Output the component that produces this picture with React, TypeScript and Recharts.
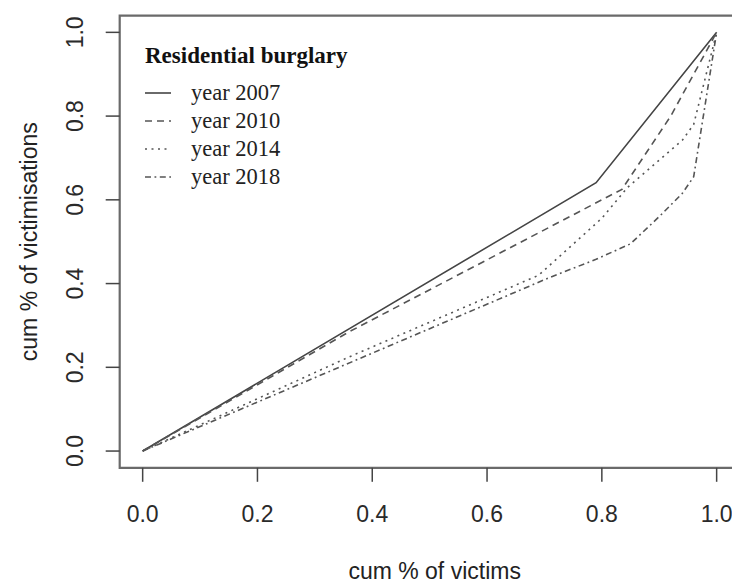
import React from 'react';
import { LineChart, Line, XAxis, YAxis, ReferenceArea, Legend, Label } from 'recharts';

// ---- data ----
const x2007 = [0, 0.79, 1];
const y2007 = [0, 0.641, 1];
const x2010 = [0, 0.36, 0.8, 0.835, 0.92, 1];
const y2010 = [0, 0.285, 0.6, 0.625, 0.8, 1];
const x2014 = [0, 0.36, 0.69, 0.8, 0.845, 0.94, 0.96, 1];
const y2014 = [0, 0.225, 0.42, 0.556, 0.63, 0.742, 0.78, 1];
const x2018 = [0, 0.71, 0.79, 0.85, 0.9, 0.94, 0.96, 1];
const y2018 = [0, 0.415, 0.458, 0.495, 0.56, 0.615, 0.655, 1];

const seriesNames = ['year 2007', 'year 2010', 'year 2014', 'year 2018'];
const legendTitle = 'Residential burglary';
const xTicks = [0, 0.2, 0.4, 0.6, 0.8, 1];
const yTicks = [0, 0.2, 0.4, 0.6, 0.8, 1];
const xTitle = 'cum % of victims';
const yTitle = 'cum % of victimisations';

const toRows = (xs: number[], ys: number[]) => xs.map((x, i) => ({ x, y: ys[i] }));

const series = [
  { name: seriesNames[0], data: toRows(x2007, y2007), dash: undefined as string | undefined, color: '#454545' },
  { name: seriesNames[1], data: toRows(x2010, y2010), dash: '7 5', color: '#555555' },
  { name: seriesNames[2], data: toRows(x2014, y2014), dash: '2 4.5', color: '#555555' },
  { name: seriesNames[3], data: toRows(x2018, y2018), dash: '6 3.5 1.8 3.5', color: '#555555' },
];

const SANS = '"Liberation Sans", Arial, sans-serif';
const SERIF = '"Liberation Serif", "Times New Roman", serif';
const fmt = (v: number) => v.toFixed(1);

const XTick = (props: any) => {
  const { x, y, payload } = props;
  return (
    <text x={x} y={y + 40} textAnchor="middle" fontSize={23} fontFamily={SANS} fill="#2a2a2a">
      {fmt(payload.value)}
    </text>
  );
};

const YTick = (props: any) => {
  const { x, y, payload } = props;
  const bx = x - 23;
  return (
    <text
      x={bx}
      y={y}
      textAnchor="middle"
      fontSize={23}
      fontFamily={SANS}
      fill="#2a2a2a"
      transform={`rotate(-90, ${bx}, ${y})`}
    >
      {fmt(payload.value)}
    </text>
  );
};

const XTitle = (props: any) => {
  const vb = props.viewBox;
  const cx = vb.x + vb.width / 2 + 5;
  const by = vb.y + vb.height - 4;
  return (
    <text x={cx} y={by} textAnchor="middle" fontSize={23} fontFamily={SANS} fill="#222">
      {xTitle}
    </text>
  );
};

const YTitle = (props: any) => {
  const vb = props.viewBox;
  const cy = vb.y + vb.height / 2;
  const bx = vb.x + 37;
  return (
    <text
      x={bx}
      y={cy}
      textAnchor="middle"
      fontSize={23}
      fontFamily={SANS}
      fill="#222"
      transform={`rotate(-90, ${bx}, ${cy})`}
    >
      {yTitle}
    </text>
  );
};

const LegendBox = () => (
  <svg width={250} height={175} style={{ display: 'block' }}>
    <text x={15} y={33} fontSize={23} fontWeight="bold" fontFamily={SERIF} fill="#111">
      {legendTitle}
    </text>
    {series.map((s, i) => {
      const ly = 63 + i * 28;
      return (
        <g key={s.name}>
          <line
            x1={15}
            x2={41}
            y1={ly}
            y2={ly}
            stroke={s.color}
            strokeWidth={1.6}
            strokeDasharray={s.dash}
          />
          <text x={61} y={ly + 7} fontSize={22.5} fontFamily={SERIF} fill="#222">
            {s.name}
          </text>
        </g>
      );
    })}
  </svg>
);

export default function App() {
  return (
    <div style={{ position: 'fixed', left: 0, top: 0, width: 732, height: 583, overflow: 'hidden', background: '#fff' }}>
      <LineChart width={732} height={583} margin={{ top: 15.6, right: -7.6, bottom: 0, left: 0 }}>
        <XAxis
          type="number"
          dataKey="x"
          domain={[-0.04, 1.04]}
          ticks={xTicks}
          allowDataOverflow
          axisLine={false}
          tickLine={{ stroke: '#444', strokeWidth: 1.5 }}
          tickSize={14}
          tickMargin={0}
          height={115.2}
          tick={<XTick />}
          interval={0}
        >
          <Label content={<XTitle />} />
        </XAxis>
        <YAxis
          type="number"
          dataKey="y"
          domain={[-0.04, 1.04]}
          ticks={yTicks}
          allowDataOverflow
          axisLine={false}
          tickLine={{ stroke: '#444', strokeWidth: 1.5 }}
          tickSize={14}
          tickMargin={0}
          width={119.7}
          tick={<YTick />}
          interval={0}
        >
          <Label content={<YTitle />} />
        </YAxis>
        <ReferenceArea
          x1={-0.04}
          x2={1.04}
          y1={-0.04}
          y2={1.04}
          fill="none"
          fillOpacity={0}
          stroke="#6a6a6a"
          strokeWidth={2.2}
        />
        {series.map((s) => (
          <Line
            key={s.name}
            name={s.name}
            data={s.data}
            dataKey="y"
            type="linear"
            stroke={s.color}
            strokeWidth={1.6}
            strokeDasharray={s.dash}
            dot={false}
            activeDot={false}
            isAnimationActive={false}
          />
        ))}
        <Legend
          layout="vertical"
          align="center"
          verticalAlign="middle"
          content={<LegendBox />}
          wrapperStyle={{ position: 'absolute', left: 130, top: 30, width: 250, height: 175 }}
        />
      </LineChart>
    </div>
  );
}
